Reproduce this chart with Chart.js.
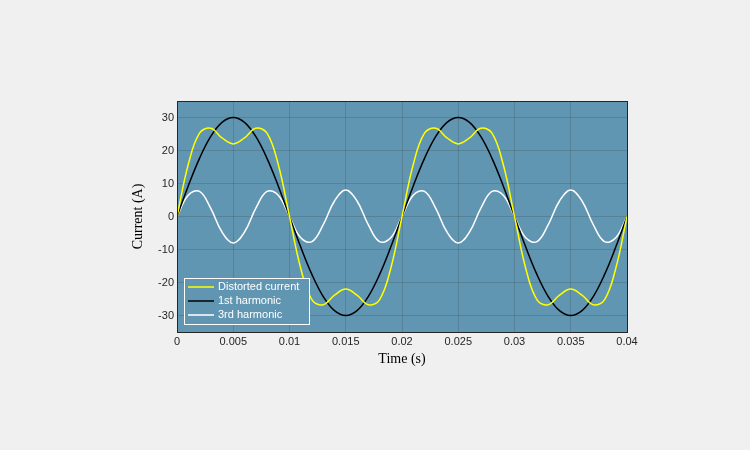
<!DOCTYPE html>
<html><head>
<script src="https://cdn.jsdelivr.net/npm/chart.js@4"></script>
<style>body{margin:0;background:#f0f0f0}#wrap{width:750px;height:450px}</style>
</head><body><div id="wrap"><canvas id="c" width="750" height="450"></canvas></div>
<script>
// time samples (s), read at 1 ms steps
const times = [0,0.001,0.002,0.003,0.004,0.005,0.006,0.007,0.008,0.009,0.01,0.011,0.012,0.013,0.014,0.015,0.016,0.017,0.018,0.019,0.02,
  0.021,0.022,0.023,0.024,0.025,0.026,0.027,0.028,0.029,0.03,0.031,0.032,0.033,0.034,0.035,0.036,0.037,0.038,0.039,0.04];
const distorted = [0,15.74,25.24,26.74,23.83,22,23.83,26.74,25.24,15.74,0,-15.74,-25.24,-26.74,-23.83,-22,-23.83,-26.74,-25.24,-15.74,0,
  15.74,25.24,26.74,23.83,22,23.83,26.74,25.24,15.74,0,-15.74,-25.24,-26.74,-23.83,-22,-23.83,-26.74,-25.24,-15.74,0];
const first = [0,9.27,17.63,24.27,28.53,30,28.53,24.27,17.63,9.27,0,-9.27,-17.63,-24.27,-28.53,-30,-28.53,-24.27,-17.63,-9.27,0,
  9.27,17.63,24.27,28.53,30,28.53,24.27,17.63,9.27,0,-9.27,-17.63,-24.27,-28.53,-30,-28.53,-24.27,-17.63,-9.27,0];
const third = [0,6.47,7.61,2.47,-4.70,-8,-4.70,2.47,7.61,6.47,0,-6.47,-7.61,-2.47,4.70,8,4.70,-2.47,-7.61,-6.47,0,
  6.47,7.61,2.47,-4.70,-8,-4.70,2.47,7.61,6.47,0,-6.47,-7.61,-2.47,4.70,8,4.70,-2.47,-7.61,-6.47,0];
const seriesNames = ['Distorted current','1st harmonic','3rd harmonic'];
const seriesColors = ['#ffff00','#000000','#ffffff'];

const pts = ys => times.map((t, i) => ({x: t, y: ys[i]}));

const frame = {
  id: 'frame',
  beforeDraw(chart) {
    const {ctx, chartArea: a} = chart;
    ctx.save();
    ctx.fillStyle = '#6096b2';
    ctx.fillRect(a.left, a.top, a.right - a.left, a.bottom - a.top);
    ctx.restore();
  },
  afterDraw(chart) {
    const {ctx, chartArea: a} = chart;
    ctx.save();
    ctx.strokeStyle = '#262626'; ctx.lineWidth = 1;
    ctx.strokeRect(a.left + 0.5, a.top + 0.5, a.right - a.left, a.bottom - a.top);
    // legend box
    const x = a.left + 7, y = a.bottom - 54, w = 125, h = 46;
    ctx.fillStyle = '#6096b2'; ctx.fillRect(x, y, w, h);
    ctx.strokeStyle = '#ffffff'; ctx.strokeRect(x + 0.5, y + 0.5, w, h);
    ctx.font = '11px "Liberation Sans", Arial';
    ctx.textBaseline = 'middle';
    seriesNames.forEach((n, i) => {
      const yy = y + 9 + i * 14;
      ctx.strokeStyle = seriesColors[i]; ctx.lineWidth = 1.5;
      ctx.beginPath(); ctx.moveTo(x + 4, yy); ctx.lineTo(x + 30, yy); ctx.stroke();
      ctx.fillStyle = '#ffffff'; ctx.fillText(n, x + 34, yy);
    });
    ctx.restore();
  }
};

new Chart(document.getElementById('c'), {
  type: 'line',
  data: {
    datasets: [
      {data: pts(distorted), borderColor: seriesColors[0]},
      {data: pts(first), borderColor: seriesColors[1]},
      {data: pts(third), borderColor: seriesColors[2]}
    ]
  },
  options: {
    responsive: false, animation: false,
    layout: {padding: {left: 128, top: 101, right: 123, bottom: 80}},
    elements: {point: {radius: 0}, line: {borderWidth: 1.5, tension: 0.4}},
    plugins: {legend: {display: false}, tooltip: {enabled: false}},
    scales: {
      x: {
        type: 'linear', min: 0, max: 0.04,
        afterFit: s => { s.height = 38; },
        ticks: {stepSize: 0.005, color: '#262626', font: {size: 11, family: '"Liberation Sans", Arial'}, maxRotation: 0,
          callback: v => +v.toFixed(3)},
        grid: {color: 'rgba(40,40,40,0.18)', drawTicks: false},
        border: {display: false},
        title: {display: true, text: 'Time (s)', color: '#000', padding: 2, font: {size: 14, family: '"Liberation Serif", serif'}}
      },
      y: {
        min: -35, max: 35,
        afterFit: s => { s.width = 49; },
        ticks: {stepSize: 10, color: '#262626', font: {size: 11, family: '"Liberation Sans", Arial'}},
        afterBuildTicks: s => { s.ticks = [-30,-20,-10,0,10,20,30].map(v => ({value: v})); },
        grid: {color: 'rgba(40,40,40,0.18)', drawTicks: false},
        border: {display: false},
        title: {display: true, text: 'Current (A)', color: '#000', padding: 2, font: {size: 14, family: '"Liberation Serif", serif'}}
      }
    }
  },
  plugins: [frame]
});
</script></body></html>
